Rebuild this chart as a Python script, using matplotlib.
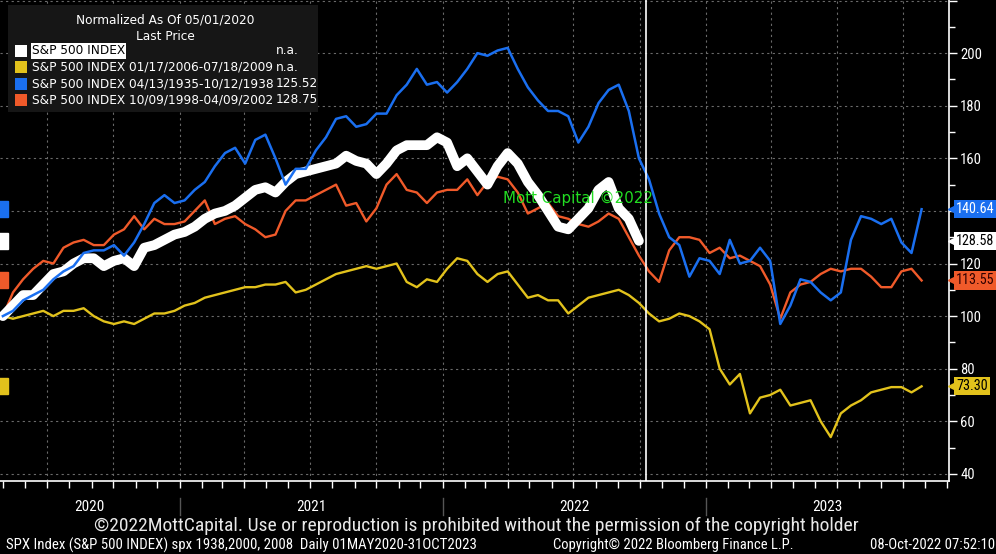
import numpy as np
import pandas as pd
import matplotlib
matplotlib.use('Agg')
import matplotlib.pyplot as plt
import matplotlib.dates as mdates
import matplotlib.transforms as mtransforms
from matplotlib.ticker import MultipleLocator, NullFormatter, FuncFormatter
from matplotlib.patches import Rectangle
from matplotlib import font_manager

plt.rcParams['font.family'] = ['DejaVu Sans']
# 細身のフォント (Bloomberg 風)
_names = {f.name for f in font_manager.fontManager.ttflist}
narrow = [n for n in ['Roboto Condensed', 'Liberation Sans Narrow', 'Open Sans Condensed']
          if n in _names] + ['DejaVu Sans']

# 2週間ごとの日付 (01MAY2020 から)
dates = pd.date_range('2020-05-01', periods=92, freq='14D')

# 現在の S&P 500 (白, 2022-10 まで)
spx_now = [100, 104, 108, 108, 112, 116, 117, 120, 122, 122, 119, 121, 122, 119, 126, 127,
           129, 131, 132, 134, 137, 139, 140, 142, 145, 148, 149, 147, 151, 154, 155, 156,
           157, 158, 161, 159, 158, 154, 158, 163, 165, 165, 165, 168, 166, 157, 160, 155,
           150, 157, 162, 158, 151, 146, 140, 134, 133, 137, 141, 148, 151, 141, 137, 128.6]
# 2006-2009 (黄)
spx_2006 = [100, 99, 100, 101, 102, 100, 102, 102, 103, 100, 98, 97, 98, 97, 99, 101,
            101, 102, 104, 105, 107, 108, 109, 110, 111, 111, 112, 112, 113, 109, 110, 112,
            114, 116, 117, 118, 119, 118, 119, 120, 113, 111, 114, 113, 118, 122, 121, 116,
            113, 116, 117, 112, 107, 108, 106, 106, 101, 104, 107, 108, 109, 110, 108, 105,
            101, 98, 99, 101, 100, 98, 95, 80, 74, 78, 63, 69, 70, 72, 66, 67,
            68, 60, 54, 63, 66, 68, 71, 72, 73, 73, 71, 73.3]
# 1935-1938 (青)
spx_1935 = [100, 102, 106, 108, 110, 114, 117, 119, 124, 125, 125, 127, 123, 128, 135, 143,
            146, 143, 144, 148, 151, 157, 162, 164, 158, 167, 169, 160, 150, 156, 156, 163,
            168, 175, 176, 172, 173, 177, 177, 184, 188, 194, 188, 189, 185, 189, 194, 200,
            199, 201, 202, 194, 187, 182, 178, 178, 176, 166, 172, 181, 186, 188, 178, 160,
            152, 139, 130, 127, 115, 122, 121, 116, 129, 120, 121, 126, 121, 97, 104, 114,
            113, 109, 106, 109, 129, 138, 137, 135, 137, 128, 124, 140.64]
# 1998-2002 (オレンジ)
spx_1998 = [100, 109, 114, 118, 121, 120, 126, 128, 129, 127, 127, 131, 133, 138, 133, 137,
            135, 135, 136, 140, 144, 135, 137, 138, 135, 133, 130, 131, 140, 144, 144, 146,
            148, 150, 142, 143, 136, 141, 150, 154, 148, 147, 143, 147, 148, 148, 152, 146,
            151, 153, 152, 147, 139, 141, 143, 138, 137, 135, 134, 136, 139, 137, 130, 123,
            117, 113, 125, 130, 130, 129, 124, 126, 122, 123, 121, 119, 112, 99, 109, 112,
            113, 116, 118, 117, 118, 118, 115, 111, 111, 117, 118, 113.55]

legend_labels = ['S&P 500 INDEX', 'S&P 500 INDEX 01/17/2006-07/18/2009',
                 'S&P 500 INDEX 04/13/1935-10/12/1938', 'S&P 500 INDEX 10/09/1998-04/09/2002']
legend_values = ['n.a.', 'n.a.', '125.52', '128.75']
years = ['2020', '2021', '2022', '2023']

c_white = '#ffffff'
c_yellow = '#e2c21c'
c_blue = '#1a6ff0'
c_orange = '#f05a2a'

W, H = 996, 554
fig = plt.figure(figsize=(W / 100, H / 100), dpi=100, facecolor='black')
ax = fig.add_axes([0, 1 - 481 / H, 949 / W, 481 / H], facecolor='black')

def fpos(x, y):
    return x / W, 1 - y / H

ax.plot(dates, spx_2006, color=c_yellow, lw=1.7, zorder=3)
ax.plot(dates, spx_1998, color=c_orange, lw=1.7, zorder=3)
ax.plot(dates[:len(spx_now)], spx_now, color=c_white, lw=7, zorder=4,
        solid_capstyle='round', solid_joinstyle='round')
ax.plot(dates, spx_1935, color=c_blue, lw=1.8, zorder=5)

ax.axvline(pd.Timestamp('2022-10-10'), color='white', lw=1.2, zorder=6)

ax.set_xlim(pd.Timestamp('2020-04-27'), pd.Timestamp('2023-12-04'))
ax.set_ylim(37.3, 220.2)

# 軸
for s in ['top', 'left']:
    ax.spines[s].set_visible(False)
for s in ['right', 'bottom']:
    ax.spines[s].set_color('white')
    ax.spines[s].set_linewidth(1.2)

ax.yaxis.tick_right()
ax.yaxis.set_major_locator(MultipleLocator(20))
ax.yaxis.set_minor_locator(MultipleLocator(10))
# 140 はタグに隠れる / 220 は表示しない
ax.yaxis.set_major_formatter(FuncFormatter(lambda v, p: '' if v > 205 or v == 140 else f'{v:.0f}'))
ax.tick_params(axis='y', which='major', length=6, width=1, colors='white', labelsize=10.5, pad=2)
ax.tick_params(axis='y', which='minor', length=4, width=1, colors='white')
for t in ax.get_yticklabels():
    t.set_family(narrow)

ax.xaxis.set_major_locator(mdates.MonthLocator([1, 4, 7, 10]))
ax.xaxis.set_minor_locator(mdates.MonthLocator())
ax.xaxis.set_major_formatter(NullFormatter())
ax.tick_params(axis='x', which='both', length=5, width=1, colors='white')

ax.grid(True, which='major', color='#6a6a6a', lw=0.8, ls=(0, (2, 3)), zorder=1)

# 年ラベル
trans = mtransforms.blended_transform_factory(ax.transData, ax.transAxes)
xmin, xmax = ax.get_xlim()
bounds = [xmin] + [mdates.date2num(pd.Timestamp(f'{y}-01-01')) for y in ['2021', '2022', '2023']] + [xmax]
for i, y in enumerate(years):
    ax.text((bounds[i] + bounds[i + 1]) / 2, -0.054, y, transform=trans, color='white',
            ha='center', va='center', fontsize=11, family=narrow)
for b in bounds[1:-1]:
    ax.plot([b, b], [-0.035, -0.071], transform=trans, color='#555555', lw=1, clip_on=False)

# 右側の値タグ
tagt = mtransforms.blended_transform_factory(ax.transAxes, ax.transData)
tags = [(140.64, c_blue, 'white'), (128.58, c_white, 'black'),
        (113.55, c_orange, '#300000'), (73.30, c_yellow, 'black')]
for v, bg, fg in tags:
    ax.text(1.0075, v, f'{v:.2f}', transform=tagt, color=fg, fontsize=10.2, family=narrow,
            ha='left', va='center', zorder=10, clip_on=False,
            bbox=dict(boxstyle='square,pad=0.15', fc=bg, ec='none'))
    ax.plot([1.005], [v], marker='<', ms=8, color=bg, transform=tagt, clip_on=False, zorder=9)
    ax.plot([0.0], [v], marker='s', ms=11, color=bg, transform=tagt, clip_on=False, zorder=9)

# 凡例ボックス
fig.patches.append(Rectangle(fpos(8, 112), 310 / W, 107 / H, transform=fig.transFigure,
                             fc='#161616', ec='none', zorder=20))
fs = 8.7
fig.text(*fpos(165, 20), 'Normalized As Of 05/01/2020', color='white', fontsize=fs,
         ha='center', va='center', zorder=21)
fig.text(*fpos(165, 36), 'Last Price', color='white', fontsize=fs, ha='center', va='center', zorder=21)
colors = [c_white, c_yellow, c_blue, c_orange]
for i, (lab, val, c) in enumerate(zip(legend_labels, legend_values, colors)):
    yy = 51 + i * 16.3
    fig.patches.append(Rectangle(fpos(15, yy + 6), 12 / W, 12 / H, transform=fig.transFigure,
                                 fc=c, ec='none', zorder=21))
    if i == 0:
        fig.text(*fpos(32, yy), lab, color='black', fontsize=fs, ha='left', va='center', zorder=22,
                 bbox=dict(boxstyle='square,pad=0.1', fc='white', ec='none'))
    else:
        fig.text(*fpos(32, yy), lab, color='white', fontsize=fs, ha='left', va='center', zorder=22)
    fig.text(*fpos(276, yy), val, color='white', fontsize=fs, ha='left', va='center', zorder=22)

# ウォーターマーク
fig.text(*fpos(503, 198), 'Mott Capital ©2022', color='#22dd22', fontsize=10.8,
         ha='left', va='center', zorder=30)

# フッター
fig.text(*fpos(476, 526), '©2022MottCapital. Use or reproduction is prohibited without the permission of the copyright holder',
         fontsize=14, color='#e8e8e8', ha='center', va='center', family=narrow)
fig.text(*fpos(6, 545), 'SPX Index (S&P 500 INDEX) spx 1938,2000, 2008  Daily 01MAY2020-31OCT2023',
         fontsize=10.7, color='white', ha='left', va='center', family=narrow)
fig.text(*fpos(553, 545), 'Copyright© 2022 Bloomberg Finance L.P.',
         fontsize=10.5, color='white', ha='left', va='center', family=narrow)
fig.text(*fpos(995, 545), '08-Oct-2022 07:52:10',
         fontsize=10.5, color='white', ha='right', va='center', family=narrow)

fig.savefig('out.png', dpi=100, facecolor='black')
